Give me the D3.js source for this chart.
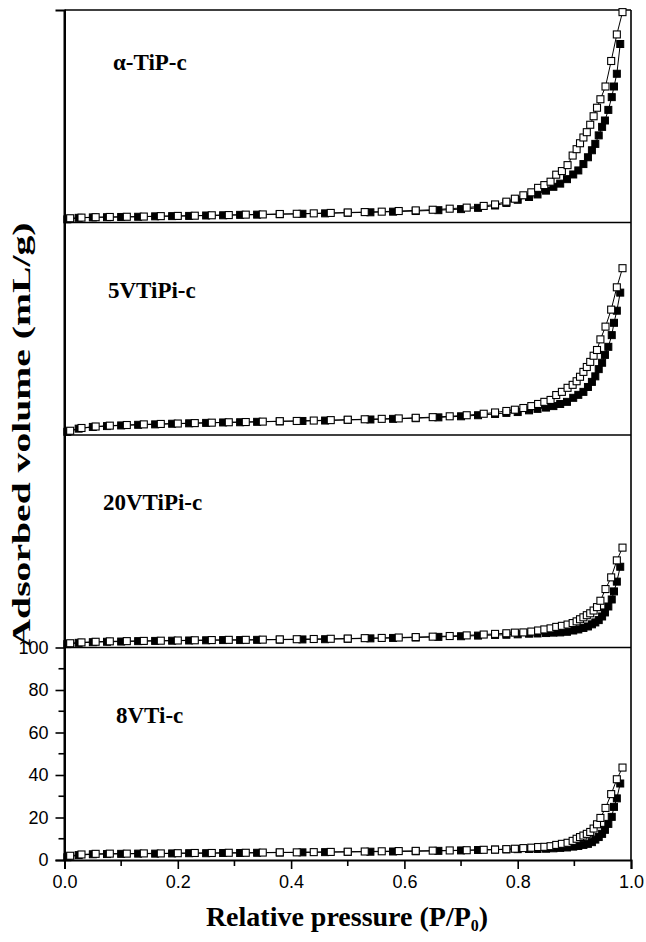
<!DOCTYPE html>
<html>
<head>
<meta charset="utf-8">
<script src="https://cdn.jsdelivr.net/npm/d3@7"></script>
<style>
  body { margin: 0; background: #fff; }
  svg { display: block; }
</style>
</head>
<body>
<script>
// isotherms, stacked: each panel is shifted up by 100 mL/g
var samples = ["α-TiP-c", "5VTiPi-c", "20VTiPi-c", "8VTi-c"];
var offsets = [300, 200, 100, 0];

// relative pressure of the adsorption branch (filled squares)
var pAds = [0.005, 0.025, 0.05, 0.075, 0.10, 0.13, 0.16, 0.19, 0.22, 0.25,
  0.28, 0.31, 0.34, 0.38, 0.42, 0.46, 0.50, 0.54, 0.58, 0.62,
  0.66, 0.70, 0.73, 0.76, 0.78, 0.80, 0.82, 0.835, 0.85, 0.863,
  0.875, 0.887, 0.898, 0.907, 0.916, 0.924, 0.931, 0.937, 0.943, 0.949,
  0.954, 0.96, 0.966, 0.970, 0.975, 0.981];

// relative pressure of the desorption branch (open squares)
var pDes = [0.01, 0.03, 0.055, 0.08, 0.11, 0.14, 0.17, 0.20, 0.23, 0.26,
  0.29, 0.32, 0.35, 0.38, 0.41, 0.44, 0.47, 0.50, 0.53, 0.56,
  0.59, 0.62, 0.65, 0.68, 0.71, 0.74, 0.76, 0.78, 0.795, 0.81,
  0.824, 0.836, 0.847, 0.858, 0.868, 0.878, 0.888, 0.897, 0.904, 0.91,
  0.916, 0.922, 0.928, 0.934, 0.94, 0.946, 0.955, 0.965, 0.975, 0.985];

var adsTiP = [1.5, 2.2, 2.4, 2.5, 2.6, 2.7, 2.9, 3.0, 3.1, 3.3,
  3.4, 3.6, 3.7, 3.9, 4.1, 4.3, 4.6, 4.8, 5.1, 5.4,
  5.8, 6.3, 6.9, 8.0, 9.2, 10.7, 12.0, 13.2, 15.0, 16.8,
  18.3, 20.4, 22.6, 24.5, 27.5, 30.7, 34, 37, 41, 45,
  48, 53, 59, 64, 70, 84];
var desTiP = [2.0, 2.3, 2.5, 2.6, 2.7, 2.8, 3.0, 3.1, 3.2, 3.4,
  3.5, 3.7, 3.8, 4.0, 4.1, 4.3, 4.5, 4.7, 4.9, 5.1,
  5.4, 5.7, 6.0, 6.5, 7.0, 7.8, 8.5, 9.8, 11.2, 12.8,
  14.2, 16.3, 17.6, 19.2, 22.5, 24.2, 27, 31.5, 34.5, 37.3,
  40, 42.5, 46, 50, 54, 58, 64, 76, 88.5, 99];

var ads5V = [1.5, 3.0, 3.8, 4.2, 4.5, 4.8, 5.0, 5.3, 5.5, 5.7,
  5.9, 6.0, 6.2, 6.4, 6.6, 6.8, 7.1, 7.3, 7.6, 7.9,
  8.3, 8.8, 9.3, 9.9, 10.4, 10.8, 11.6, 12.3, 12.9, 13.6,
  14.6, 15.6, 17.5, 18.9, 20.3, 22.6, 25, 27.6, 31, 34,
  37.7, 41.5, 47, 52.8, 58.5, 67];
var des5V = [2.0, 3.3, 4.0, 4.4, 4.7, 5.0, 5.2, 5.4, 5.6, 5.8,
  6.0, 6.1, 6.3, 6.5, 6.6, 6.8, 7.0, 7.2, 7.4, 7.6,
  7.8, 8.1, 8.4, 8.8, 9.3, 10.0, 10.6, 11.3, 11.9, 12.7,
  13.6, 14.6, 15.6, 16.5, 18.8, 20.3, 22.2, 23.6, 25.3, 27.4,
  29.7, 32, 34.4, 37.3, 40, 45, 51, 59, 69.5, 78.5];

var ads20V = [1.6, 2.2, 2.5, 2.7, 2.8, 3.0, 3.1, 3.2, 3.3, 3.4,
  3.5, 3.5, 3.6, 3.7, 3.8, 3.9, 4.1, 4.3, 4.5, 4.7,
  5.0, 5.3, 5.6, 5.9, 6.0, 6.2, 6.5, 6.6, 6.8, 7.0,
  7.1, 7.4, 8.0, 8.5, 9.2, 9.9, 10.9, 11.8, 12.9, 14.6,
  16.5, 19.3, 22.6, 26.4, 31, 38];
var des20V = [2.0, 2.4, 2.7, 2.9, 3.0, 3.1, 3.2, 3.3, 3.4, 3.5,
  3.6, 3.6, 3.7, 3.8, 3.9, 4.0, 4.1, 4.2, 4.4, 4.5,
  4.7, 4.9, 5.1, 5.4, 5.7, 6.1, 6.4, 6.7, 7.0, 7.1,
  7.5, 8.0, 8.5, 9.0, 9.7, 10.2, 10.8, 11.5, 12.3, 13.3,
  14.2, 15.2, 16.1, 17.4, 19.0, 22, 27.5, 33, 41, 47];

var ads8V = [1.3, 2.3, 2.7, 2.8, 2.9, 3.0, 3.0, 3.1, 3.2, 3.2,
  3.3, 3.3, 3.4, 3.5, 3.6, 3.7, 3.8, 3.9, 4.0, 4.1,
  4.3, 4.5, 4.7, 4.9, 5.0, 5.1, 5.2, 5.2, 5.3, 5.5,
  5.7, 5.9, 6.3, 6.6, 7.1, 7.6, 8.4, 9.6, 10.8, 12.3,
  14.2, 17, 20.3, 25, 29, 36];
var des8V = [2.0, 2.6, 2.9, 3.0, 3.0, 3.1, 3.1, 3.2, 3.3, 3.3,
  3.4, 3.4, 3.5, 3.6, 3.6, 3.7, 3.8, 3.9, 4.0, 4.1,
  4.2, 4.3, 4.4, 4.5, 4.6, 4.8, 4.9, 5.1, 5.3, 5.6,
  5.8, 6.1, 6.2, 6.5, 7.1, 7.6, 8.1, 9.0, 10.0, 10.8,
  11.5, 12.3, 13.2, 14.8, 16.8, 19.8, 24.5, 31, 38, 43.5];

var adsData = [adsTiP, ads5V, ads20V, ads8V];
var desData = [desTiP, des5V, des20V, des8V];

var yTicks = [0, 20, 40, 60, 80, 100];
var xTicks = [0, 0.2, 0.4, 0.6, 0.8, 1.0];

var width = 646, height = 942;
var margin = {top: 10, right: 15, bottom: 82, left: 64.5};

var svg = d3.select("body").append("svg")
    .attr("width", width)
    .attr("height", height);

var x = d3.scaleLinear().domain([0, 1]).range([margin.left, width - margin.right]);
var y = d3.scaleLinear().domain([0, 400]).range([height - margin.bottom, margin.top]);

var sans = "'Liberation Sans', Arial, sans-serif";
var serif = "'Liberation Serif', 'Times New Roman', serif";

// panel separators and frame
svg.append("g").selectAll("line")
    .data([100, 200, 300, 400])
  .enter().append("line")
    .attr("x1", x(0)).attr("x2", x(1))
    .attr("y1", function(d) { return y(d); })
    .attr("y2", function(d) { return y(d); })
    .attr("stroke", "#000")
    .attr("stroke-width", 1.6);

svg.append("line")
    .attr("x1", x(1)).attr("x2", x(1))
    .attr("y1", y(0)).attr("y2", y(400))
    .attr("stroke", "#000").attr("stroke-width", 1.6);

// bottom axis
var xAxis = d3.axisBottom(x)
    .tickValues(xTicks)
    .tickFormat(d3.format(".1f"))
    .tickSize(9)
    .tickPadding(6);
var gx = svg.append("g")
    .attr("transform", "translate(0," + y(0) + ")")
    .call(xAxis);
svg.append("g").selectAll("line")
    .data([0.1, 0.3, 0.5, 0.7, 0.9])
  .enter().append("line")
    .attr("x1", function(d) { return x(d); })
    .attr("x2", function(d) { return x(d); })
    .attr("y1", y(0)).attr("y2", y(0) + 6)
    .attr("stroke", "#000").attr("stroke-width", 1.6);

// left axis, labelled only for the lowest panel
var yAxis = d3.axisLeft(y)
    .tickValues(yTicks)
    .tickSize(9)
    .tickPadding(7);
var gy = svg.append("g")
    .attr("transform", "translate(" + x(0) + ",0)")
    .call(yAxis);
svg.append("g").selectAll("line")
    .data([10, 30, 50, 70, 90])
  .enter().append("line")
    .attr("x1", x(0) - 6).attr("x2", x(0))
    .attr("y1", function(d) { return y(d); })
    .attr("y2", function(d) { return y(d); })
    .attr("stroke", "#000").attr("stroke-width", 1.6);
svg.append("line")
    .attr("x1", x(0)).attr("x2", x(0))
    .attr("y1", y(0)).attr("y2", y(400))
    .attr("stroke", "#000").attr("stroke-width", 2);

[gx, gy].forEach(function(g) {
  g.select(".domain").attr("stroke-width", 2);
  g.selectAll(".tick line").attr("stroke-width", 1.6);
  g.selectAll(".tick text")
    .style("font-family", sans)
    .style("font-size", "18px")
    .attr("fill", "#000");
});

var line = d3.line()
    .x(function(d) { return x(d[0]); })
    .y(function(d) { return y(d[1]); });

var sq = 7;
var labelX = [113, 108, 103, 116];

samples.forEach(function(name, i) {
  var off = offsets[i];
  var ads = pAds.map(function(p, j) { return [p, adsData[i][j] + off]; });
  var des = pDes.map(function(p, j) { return [p, desData[i][j] + off]; });

  var g = svg.append("g");
  g.append("path").attr("d", line(ads))
    .attr("fill", "none").attr("stroke", "#000").attr("stroke-width", 1);
  g.append("path").attr("d", line(des))
    .attr("fill", "none").attr("stroke", "#000").attr("stroke-width", 1);

  g.selectAll(".ads").data(ads).enter().append("rect")
    .attr("class", "ads")
    .attr("x", function(d) { return x(d[0]) - sq / 2; })
    .attr("y", function(d) { return y(d[1]) - sq / 2; })
    .attr("width", sq).attr("height", sq)
    .attr("fill", "#000").attr("stroke", "#000");

  g.selectAll(".des").data(des).enter().append("rect")
    .attr("class", "des")
    .attr("x", function(d) { return x(d[0]) - sq / 2; })
    .attr("y", function(d) { return y(d[1]) - sq / 2; })
    .attr("width", sq).attr("height", sq)
    .attr("fill", "#fff").attr("stroke", "#000").attr("stroke-width", 1.1);

  // sample name, upper left of each panel
  svg.append("text")
    .attr("x", labelX[i])
    .attr("y", y(off + 100) + (i == 0 ? 60 : 75))
    .style("font-family", serif)
    .style("font-weight", "bold")
    .style("font-size", "23px")
    .text(name);
});

// axis titles
svg.append("text")
    .attr("transform", "translate(30,435) rotate(-90)")
    .attr("text-anchor", "middle")
    .attr("textLength", 425)
    .attr("lengthAdjust", "spacingAndGlyphs")
    .style("font-family", serif)
    .style("font-weight", "bold")
    .style("font-size", "26px")
    .text("Adsorbed volume (mL/g)");

var xt = svg.append("text")
    .attr("x", 347)
    .attr("y", 926)
    .attr("text-anchor", "middle")
    .style("font-family", serif)
    .style("font-weight", "bold")
    .style("font-size", "28px")
    .text("Relative pressure (P/P");
xt.append("tspan").attr("dy", 5).style("font-size", "16px").text("0");
xt.append("tspan").attr("dy", -5).text(")");
</script>
</body>
</html>
